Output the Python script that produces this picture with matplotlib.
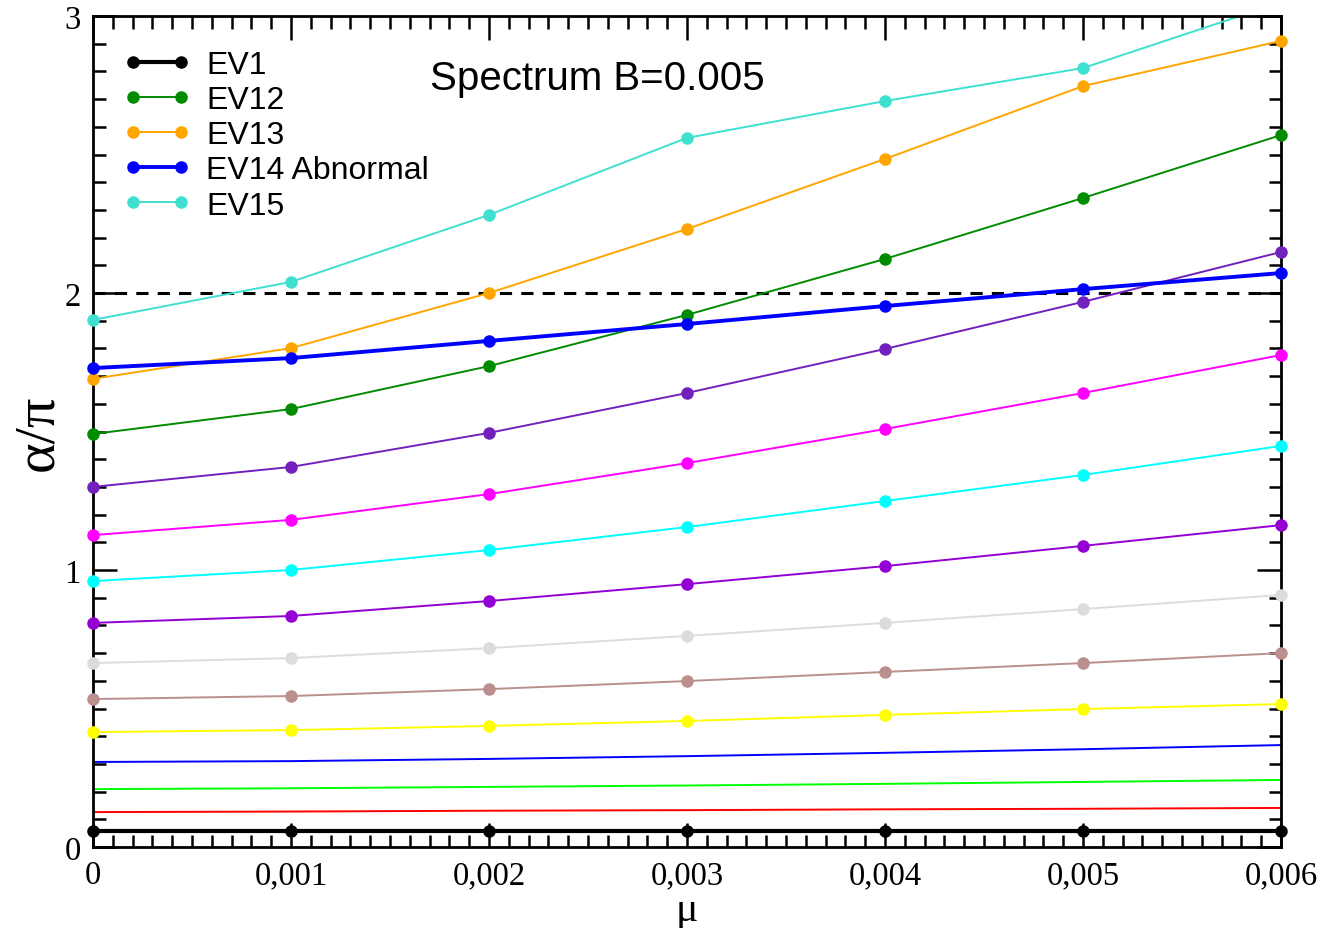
import numpy as np
import matplotlib
matplotlib.use('Agg')
import matplotlib.pyplot as plt
from matplotlib.ticker import MultipleLocator
from matplotlib.legend_handler import HandlerLine2D

# mu values (x)
mu = [0.0, 0.001, 0.002, 0.003, 0.004, 0.005, 0.006]

# alpha/pi for each eigenvalue branch
ev1 = [0.058, 0.058, 0.058, 0.058, 0.058, 0.058, 0.058]
ev2 = [0.126, 0.128, 0.131, 0.133, 0.136, 0.138, 0.141]
ev3 = [0.209, 0.212, 0.217, 0.222, 0.228, 0.235, 0.242]
ev4 = [0.307, 0.310, 0.318, 0.328, 0.340, 0.353, 0.368]
ev5 = [0.415, 0.422, 0.437, 0.455, 0.477, 0.498, 0.516]
ev6 = [0.534, 0.545, 0.570, 0.599, 0.632, 0.664, 0.700]
ev7 = [0.664, 0.682, 0.718, 0.762, 0.809, 0.859, 0.910]
ev8 = [0.809, 0.834, 0.888, 0.949, 1.014, 1.087, 1.162]
ev9 = [0.960, 1.000, 1.072, 1.155, 1.249, 1.343, 1.448]
ev10 = [1.126, 1.181, 1.274, 1.386, 1.509, 1.639, 1.776]
ev11 = [1.300, 1.372, 1.495, 1.639, 1.798, 1.968, 2.148]
ev12 = [1.491, 1.581, 1.736, 1.921, 2.123, 2.343, 2.570]
ev13 = [1.690, 1.801, 2.000, 2.231, 2.484, 2.747, 2.910]
ev14 = [1.729, 1.765, 1.827, 1.888, 1.953, 2.014, 2.072]
ev15 = [1.903, 2.040, 2.282, 2.560, 2.693, 2.812, 3.049]

x_ticks = [0, 0.001, 0.002, 0.003, 0.004, 0.005, 0.006]
x_labels = ['0', '0,001', '0,002', '0,003', '0,004', '0,005', '0,006']

# (data, colour, linewidth, markers?, label)
series = [
    (ev2, '#ff0000', 1.4, False, None),
    (ev3, '#00ff00', 1.4, False, None),
    (ev4, '#0000ff', 1.4, False, None),
    (ev5, '#ffff00', 1.4, True, None),
    (ev6, '#bc8f8f', 1.4, True, None),
    (ev7, '#dcdcdc', 1.4, True, None),
    (ev8, '#9400d3', 1.4, True, None),
    (ev9, '#00ffff', 1.4, True, None),
    (ev10, '#ff00ff', 1.4, True, None),
    (ev11, '#7221bc', 1.4, True, None),
    (ev12, '#008b00', 1.4, True, 'EV12'),
    (ev13, '#ffa500', 1.4, True, 'EV13'),
    (ev15, '#40e0d0', 1.4, True, 'EV15'),
    (ev14, '#0000ff', 2.8, True, 'EV14 Abnormal'),
    (ev1, '#000000', 3.0, True, 'EV1'),
]

fig = plt.figure(figsize=(13.23, 9.29), dpi=100)
ax = fig.add_axes([93/1323, 81/929, 1188/1323, 831/929])

ax.axhline(2.0, color='k', ls=(0, (4, 3)), lw=2.2, zorder=1)

handles = {}
for y, c, lw, mk, lab in series:
    ax.plot(mu, y, color=c, lw=lw, zorder=2)
    if mk:
        xs = [m for m, v in zip(mu, y) if v <= 3.0]
        ys = [v for v in y if v <= 3.0]
        ax.plot(xs, ys, ls='none', marker='o', ms=8, color=c,
                clip_on=False, zorder=3)
    if lab:
        h, = ax.plot([], [], color=c, lw=lw, marker='o', ms=8)
        handles[lab] = h

order = ['EV1', 'EV12', 'EV13', 'EV14 Abnormal', 'EV15']
leg = ax.legend([handles[k] for k in order], order, loc='upper left',
                bbox_to_anchor=(0.034, 0.959), frameon=False, numpoints=2,
                handlelength=1.5, handletextpad=0.78, labelspacing=0.16,
                borderpad=0, borderaxespad=0,
                handler_map={plt.Line2D: HandlerLine2D(marker_pad=0)},
                prop={'family': 'Liberation Sans', 'size': 23})

ax.text(0.284, 0.925, 'Spectrum B=0.005', transform=ax.transAxes,
        fontsize=29, family='Liberation Sans', va='center', ha='left')

ax.set_xlim(0, 0.006)
ax.set_ylim(0, 3)
ax.xaxis.set_minor_locator(MultipleLocator(0.0001))
ax.yaxis.set_major_locator(MultipleLocator(1))
ax.yaxis.set_minor_locator(MultipleLocator(0.1))
ax.set_xticks(x_ticks)
ax.set_xticklabels(x_labels)

ax.tick_params(which='both', direction='in', top=True, right=True, width=1.8)
ax.tick_params(which='major', length=17, labelsize=23.5, pad=9)
ax.tick_params(which='minor', length=9)
for lbl in ax.get_xticklabels() + ax.get_yticklabels():
    lbl.set_family('Liberation Serif')
for s in ax.spines.values():
    s.set_linewidth(2)

ax.set_xlabel('μ', family='Liberation Serif', fontsize=30, va='center')
ax.xaxis.set_label_coords(0.5, -0.076)
ax.set_ylabel('α/π', family='Liberation Serif', fontsize=42, va='center')
ax.yaxis.set_label_coords(-0.046, 0.5)

plt.savefig('out.png', dpi=100)
